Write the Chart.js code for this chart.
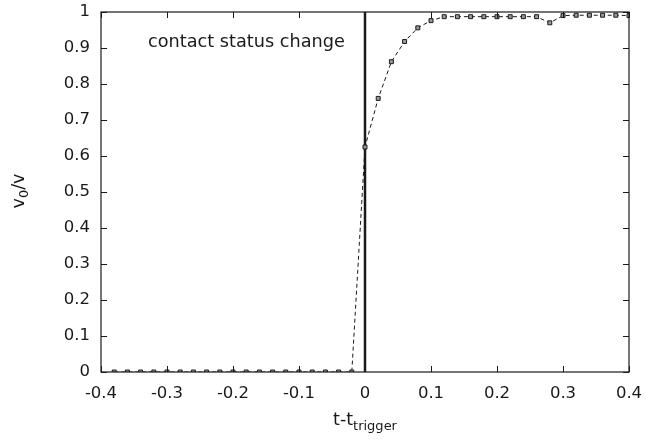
<!DOCTYPE html>
<html>
<head>
<meta charset="utf-8">
<script src="https://cdn.jsdelivr.net/npm/chart.js@4/dist/chart.umd.min.js"></script>
<style>
html,body{margin:0;padding:0;background:#fff;}
#wrap{width:646px;height:439px;}
</style>
</head>
<body>
<div id="wrap"><canvas id="c" width="646" height="439"></canvas></div>
<script>
// ---- data ----
const tValues = [-0.38,-0.36,-0.34,-0.32,-0.30,-0.28,-0.26,-0.24,-0.22,-0.20,-0.18,-0.16,-0.14,-0.12,-0.10,-0.08,-0.06,-0.04,-0.02,
                 0.00,0.02,0.04,0.06,0.08,0.10,0.12,0.14,0.16,0.18,0.20,0.22,0.24,0.26,0.28,0.30,0.32,0.34,0.36,0.38,0.40];
const ratioValues = [0,0,0,0,0,0,0,0,0,0,0,0,0,0,0,0,0,0,0,
                     0.625,0.76,0.862,0.918,0.956,0.976,0.987,0.987,0.987,0.987,0.987,0.987,0.987,0.987,0.970,0.990,0.991,0.991,0.991,0.991,0.990];
const triggerLineX = [0, 0];
const triggerLineY = [0, 1];
const xTicks = [-0.4,-0.3,-0.2,-0.1,0,0.1,0.2,0.3,0.4];
const yTicks = [0,0.1,0.2,0.3,0.4,0.5,0.6,0.7,0.8,0.9,1];
const annotationText = "contact status change";

const FONT = "'DejaVu Sans', 'Liberation Sans', Arial, sans-serif";
const INK = '#1a1a1a';

const framePlugin = {
  id: 'frame',
  afterDraw(chart) {
    const {ctx, chartArea: a, scales} = chart;
    const xs = scales.x, ys = scales.y;
    ctx.save();
    ctx.strokeStyle = INK;
    ctx.lineWidth = 1.2;
    ctx.strokeRect(a.left, a.top, a.right - a.left, a.bottom - a.top);
    // inward ticks on all four sides
    const L = 6;
    ctx.beginPath();
    xTicks.forEach(v => {
      const px = Math.round(xs.getPixelForValue(v)) + 0.5;
      ctx.moveTo(px, a.bottom); ctx.lineTo(px, a.bottom - L);
      ctx.moveTo(px, a.top); ctx.lineTo(px, a.top + L);
    });
    yTicks.forEach(v => {
      const py = Math.round(ys.getPixelForValue(v)) + 0.5;
      ctx.moveTo(a.left, py); ctx.lineTo(a.left + L, py);
      ctx.moveTo(a.right, py); ctx.lineTo(a.right - L, py);
    });
    ctx.lineWidth = 1;
    ctx.stroke();
    // annotation
    ctx.fillStyle = INK;
    ctx.font = "17.7px " + FONT;
    ctx.textBaseline = 'alphabetic';
    ctx.textAlign = 'left';
    ctx.fillText(annotationText, a.left + 47, a.top + 35);
    // x title: t-t_trigger
    const mainX = "t-t", subX = "trigger";
    ctx.font = "17.5px " + FONT;
    const w1 = ctx.measureText(mainX).width;
    ctx.font = "13px " + FONT;
    const w2 = ctx.measureText(subX).width;
    const cx = (a.left + a.right) / 2;
    let sx = cx - (w1 + w2) / 2;
    const baseY = 425;
    ctx.font = "17.5px " + FONT;
    ctx.fillText(mainX, sx, baseY);
    ctx.font = "13px " + FONT;
    ctx.fillText(subX, sx + w1, baseY + 5);
    // y title: v_0/v rotated
    ctx.save();
    ctx.translate(24, 191);
    ctx.rotate(-Math.PI / 2);
    const p1 = "v", p2 = "0", p3 = "/v";
    ctx.font = "17.5px " + FONT;
    const a1 = ctx.measureText(p1).width, a3 = ctx.measureText(p3).width;
    ctx.font = "13px " + FONT;
    const a2 = ctx.measureText(p2).width;
    let ox = -(a1 + a2 + a3) / 2;
    ctx.font = "17.5px " + FONT;
    ctx.fillText(p1, ox, 0);
    ctx.font = "13px " + FONT;
    ctx.fillText(p2, ox + a1, 4);
    ctx.font = "17.5px " + FONT;
    ctx.fillText(p3, ox + a1 + a2, 0);
    ctx.restore();
    ctx.restore();
  }
};

new Chart(document.getElementById('c'), {
  type: 'scatter',
  data: {
    datasets: [
      {
        data: tValues.map((t, i) => ({x: t, y: ratioValues[i]})),
        showLine: true,
        borderColor: INK,
        borderWidth: 1,
        borderDash: [4, 3],
        pointStyle: 'rect',
        pointRadius: 2.8,
        pointBorderWidth: 1,
        pointBorderColor: INK,
        pointBackgroundColor: '#9a9a9a',
        tension: 0
      },
      {
        data: triggerLineX.map((t, i) => ({x: t, y: triggerLineY[i]})),
        showLine: true,
        borderColor: INK,
        borderWidth: 2.5,
        pointRadius: 0,
        tension: 0
      }
    ]
  },
  options: {
    responsive: false,
    animation: false,
    devicePixelRatio: 1,
    layout: {padding: {top: 12, right: 17, left: 0, bottom: 0}},
    plugins: {legend: {display: false}, tooltip: {enabled: false}},
    scales: {
      x: {
        type: 'linear', min: -0.4, max: 0.4,
        afterFit(s) { s.height = 67; s.paddingLeft = 0; s.paddingRight = 0; s.paddingTop = 0; s.paddingBottom = 0; },
        afterBuildTicks(s) { s.ticks = xTicks.map(v => ({value: v})); },
        grid: {display: false, drawTicks: false},
        border: {display: false},
        ticks: {
          padding: 12,
          color: INK,
          font: {family: FONT, size: 16.5},
          callback: v => (Math.abs(v) < 1e-9 ? '0' : String(Math.round(v * 10) / 10)),
          maxRotation: 0, autoSkip: false
        }
      },
      y: {
        type: 'linear', min: 0, max: 1,
        afterFit(s) { s.width = 101; s.paddingLeft = 0; s.paddingRight = 0; s.paddingTop = 0; s.paddingBottom = 0; },
        afterBuildTicks(s) { s.ticks = yTicks.map(v => ({value: v})); },
        grid: {display: false, drawTicks: false},
        border: {display: false},
        ticks: {
          padding: 11,
          color: INK,
          font: {family: FONT, size: 16.5},
          callback: v => (Math.abs(v) < 1e-9 ? '0' : String(Math.round(v * 10) / 10)),
          autoSkip: false
        }
      }
    }
  },
  plugins: [framePlugin]
});
</script>
</body>
</html>
